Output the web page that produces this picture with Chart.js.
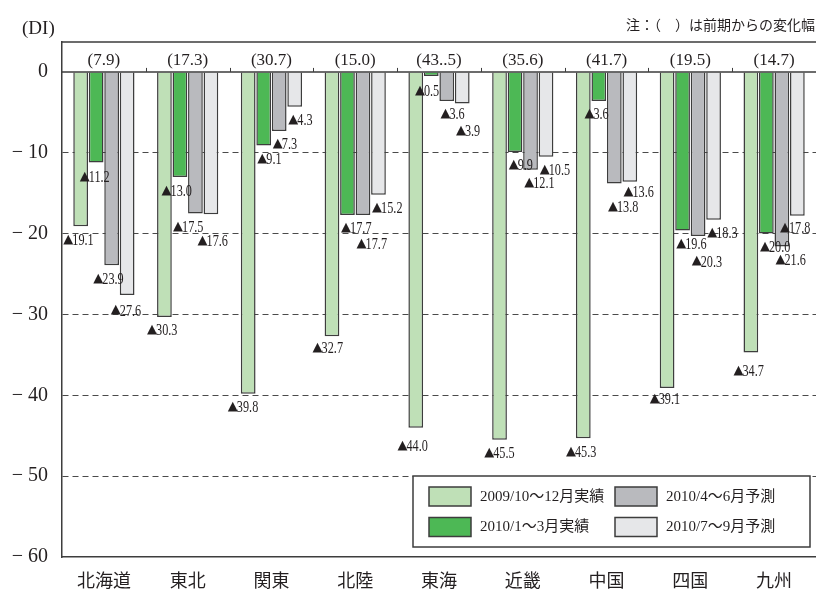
<!DOCTYPE html>
<html lang="ja">
<head>
<meta charset="utf-8">
<title>地域別 業況判断DI</title>
<script src="https://cdn.jsdelivr.net/npm/chart.js@4.4.1/dist/chart.umd.min.js"></script>
<style>
  html, body { margin: 0; padding: 0; background: #fff; overflow: hidden; }
  #wrap { width: 816px; height: 589px; }
</style>
</head>
<body>
<div id="wrap"><canvas id="chart-di" width="816" height="589"></canvas></div>
<script>
// 地域・系列
const regions = ['北海道', '東北', '関東', '北陸', '東海', '近畿', '中国', '四国', '九州'];
const series_names = ['2009/10～12月実績', '2010/1～3月実績', '2010/4～6月予測', '2010/7～9月予測'];

// DI 値
const di_2009_q4 = [-19.1, -30.3, -39.8, -32.7, -44.0, -45.5, -45.3, -39.1, -34.7];
const di_2010_q1 = [-11.2, -13.0, -9.1, -17.7, -0.5, -9.9, -3.6, -19.6, -20.0];
const di_2010_q2 = [-23.9, -17.5, -7.3, -17.7, -3.6, -12.1, -13.8, -20.3, -21.6];
const di_2010_q3 = [-27.6, -17.6, -4.3, -15.2, -3.9, -10.5, -13.6, -18.3, -17.8];

// 前期からの変化幅（表記どおり）
const change_labels = ['(7.9)', '(17.3)', '(30.7)', '(15.0)', '(43..5)', '(35.6)', '(41.7)', '(19.5)', '(14.7)'];

// 縦軸目盛
const y_ticks = [0, -10, -20, -30, -40, -50, -60];

const bar_colors = ['#bfe0b7', '#4db855', '#b9babe', '#e6e7e9'];
const ink = '#231f20';
const line_color = '#3d3d3d';

// ▲ラベルの位置調整 [棒左端からのx, 棒下端からのy]  key = '地域,系列'
const label_shift = {
  '0,1': [-9, 14], '0,2': [-11, 13], '0,3': [-9, 15],
  '1,1': [-11, 14], '1,2': [-15, 13], '1,3': [-6, 26],
  '2,0': [-13, 13],
  '3,0': [-12, 11], '3,2': [1, 29],
  '4,0': [-11, 18], '4,1': [-9, 15], '4,3': [1, 27],
  '5,0': [-8, 13],
  '6,1': [-7, 13], '6,2': [1, 23], '6,3': [1, 10],
  '7,0': [-10, 11], '7,2': [1, 25],
  '8,0': [-10, 18], '8,3': [-10, 12]
};

const serif = "'Liberation Serif', 'DejaVu Serif', 'Noto Sans CJK JP', serif";
const cjk = "'Noto Sans CJK JP', sans-serif";

// ▲ + 数値（数値は横に詰める）
function draw_value_label(ctx, v, px, py) {
  ctx.save();
  ctx.translate(px, py);
  ctx.font = "13px 'DejaVu Sans'";
  ctx.fillText('▲', 0, 0);
  const tw = ctx.measureText('▲').width;
  ctx.font = `17px ${serif}`;
  ctx.translate(tw - 1, 0);
  ctx.scale(0.72, 1);
  ctx.fillText(Math.abs(v).toFixed(1), 0, 1);
  ctx.restore();
}

// 0線・上枠・区切り目盛・変化幅・▲値
const di_overlay = {
  id: 'di_overlay',
  afterDatasetsDraw(chart) {
    const { ctx, chartArea: area, scales: { x, y } } = chart;
    const zero = y.getPixelForValue(0);

    ctx.save();
    ctx.strokeStyle = line_color;
    ctx.lineWidth = 1.5;
    ctx.beginPath();
    ctx.moveTo(area.left, zero);
    ctx.lineTo(area.right, zero);
    ctx.moveTo(area.left, area.top);
    ctx.lineTo(area.right, area.top);
    ctx.stroke();

    ctx.lineWidth = 1;
    ctx.beginPath();
    for (let i = 1; i < regions.length; i++) {
      const bx = Math.round((x.getPixelForValue(i - 1) + x.getPixelForValue(i)) / 2) + 0.5;
      ctx.moveTo(bx, zero);
      ctx.lineTo(bx, zero - 4);
    }
    ctx.stroke();

    // 変化幅
    ctx.fillStyle = ink;
    ctx.font = `17px ${serif}`;
    ctx.textAlign = 'center';
    ctx.textBaseline = 'middle';
    change_labels.forEach((t, i) => {
      ctx.fillText(t, x.getPixelForValue(i), zero - 11);
    });

    // ▲値ラベル
    ctx.textAlign = 'left';
    chart.data.datasets.forEach((ds, di) => {
      const meta = chart.getDatasetMeta(di);
      meta.data.forEach((bar, i) => {
        const def = di === 0 ? [-10, 13] : [1, 13];
        const [dx, dy] = label_shift[`${i},${di}`] || def;
        const left = bar.x - bar.width / 2;
        draw_value_label(ctx, ds.data[i], left + dx, bar.y + dy);
      });
    });

    // 凡例
    const bw = 397, bh = 71;
    const bx0 = area.right - 6 - bw;
    const by0 = area.bottom - 10 - bh;
    ctx.fillStyle = '#fff';
    ctx.fillRect(bx0, by0, bw, bh);
    ctx.strokeStyle = line_color;
    ctx.lineWidth = 1.5;
    ctx.strokeRect(bx0, by0, bw, bh);
    const order = [[0, 0, 0], [1, 0, 1], [2, 1, 0], [3, 1, 1]]; // [系列, 列, 行]
    ctx.font = `15px ${serif}`;
    ctx.textBaseline = 'middle';
    order.forEach(([si, col, row]) => {
      const sx = bx0 + 16 + col * 186;
      const sy = by0 + 11 + row * 30.5;
      ctx.fillStyle = chart.data.datasets[si].backgroundColor;
      ctx.fillRect(sx, sy, 42, 19);
      ctx.strokeStyle = line_color;
      ctx.lineWidth = 1.5;
      ctx.strokeRect(sx, sy, 42, 19);
      ctx.fillStyle = ink;
      ctx.fillText(chart.data.datasets[si].label, sx + 51, sy + 10);
    });

    // 単位と注記
    ctx.fillStyle = ink;
    ctx.font = `19px ${serif}`;
    ctx.textAlign = 'left';
    ctx.fillText('(DI)', area.left - 40, area.top - 13);
    ctx.font = `14px ${cjk}`;
    ctx.textAlign = 'right';
    ctx.fillText('注：（　）は前期からの変化幅', area.right - 1, area.top - 17);
    ctx.restore();
  }
};

const datasets = [di_2009_q4, di_2010_q1, di_2010_q2, di_2010_q3].map((d, k) => ({
  label: series_names[k],
  data: d,
  backgroundColor: bar_colors[k],
  borderColor: line_color,
  borderWidth: 1.5,
  borderSkipped: 'start',
  categoryPercentage: 0.74,
  barPercentage: 0.95
}));

const chart_di = new Chart(document.getElementById('chart-di').getContext('2d'), {
  type: 'bar',
  data: { labels: regions, datasets },
  options: {
    responsive: false,
    animation: false,
    events: [],
    layout: { padding: { top: 42, right: 0, bottom: 0, left: 0 } },
    plugins: { legend: { display: false }, tooltip: { enabled: false } },
    scales: {
      x: {
        grid: { display: false },
        border: { display: true, color: line_color, width: 1.5 },
        ticks: {
          color: ink,
          font: { family: cjk, size: 18 },
          padding: 4,
          maxRotation: 0,
          autoSkip: false
        },
        afterFit: s => { s.height = 32; }
      },
      y: {
        min: -60,
        max: 3.7,
        afterBuildTicks: s => { s.ticks = y_ticks.map(v => ({ value: v })); },
        grid: {
          drawTicks: false,
          lineWidth: 1,
          color: c => (c.tick && (c.tick.value === 0 || c.tick.value === -60)) ? 'rgba(0,0,0,0)' : '#4a4a4a'
        },
        border: { display: true, color: line_color, width: 1.5, dash: [6, 4] },
        ticks: {
          color: ink,
          font: { family: serif, size: 20 },
          padding: 14,
          callback: v => (v === 0 ? '0' : '\u2212 ' + Math.abs(v))
        },
        afterFit: s => { s.width = 62; }
      }
    }
  },
  plugins: [di_overlay]
});
</script>
</body>
</html>
